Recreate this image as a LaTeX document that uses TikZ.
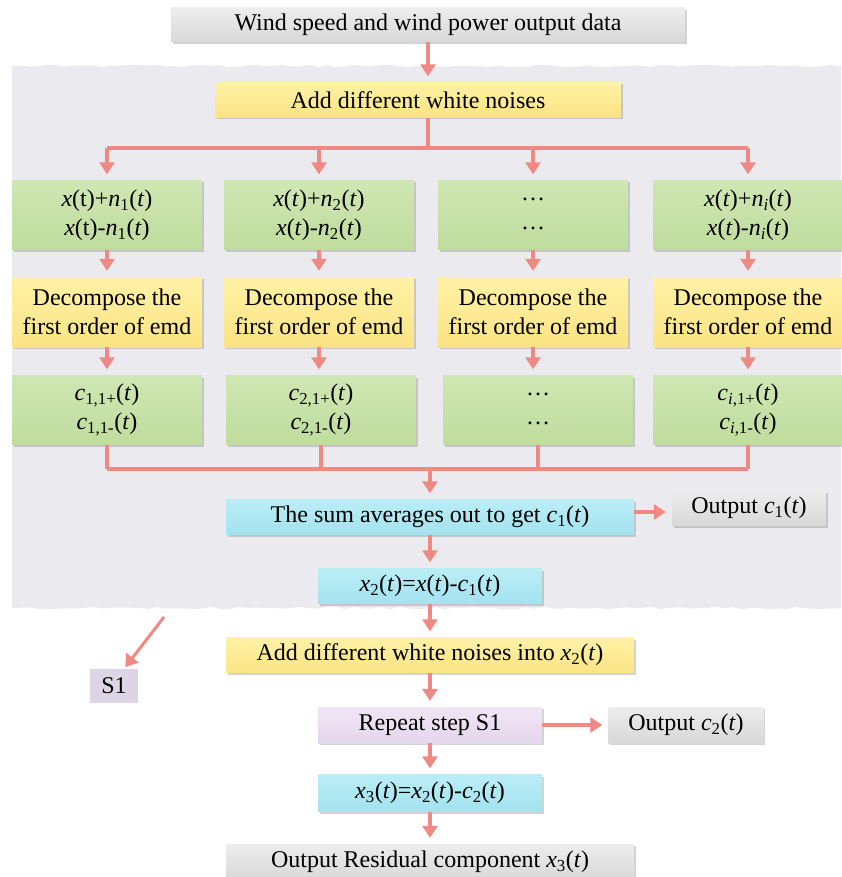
\documentclass[tikz,border=0pt]{standalone}
\usepackage{fontspec}
\setmainfont{Liberation Serif}
\usetikzlibrary{arrows.meta, positioning, shadows, decorations.pathmorphing}
\definecolor{arrowred}{HTML}{EE8A83}
\definecolor{regiongray}{HTML}{EBEBEF}
\definecolor{grayhi}{HTML}{EDEDED}
\definecolor{graylo}{HTML}{D8D8D8}
\definecolor{yellowhi}{HTML}{FFF2A6}
\definecolor{yellowlo}{HTML}{FBE383}
\definecolor{greenhi}{HTML}{CFE7B3}
\definecolor{greenlo}{HTML}{BFDC9D}
\definecolor{bluehi}{HTML}{BAEEF7}
\definecolor{bluelo}{HTML}{A3E2EE}
\definecolor{lilachi}{HTML}{F1E6F5}
\definecolor{lilaclo}{HTML}{E4D6EC}
\definecolor{sonebox}{HTML}{DDD5E5}
\newcommand{\vi}[1]{\textit{#1}}
\newcommand{\middots}{\raisebox{0.3ex}{…}}

\begin{document}
\begin{tikzpicture}[x=1pt, y=-1pt,
    box/.style={rectangle, inner sep=0pt, align=center, minimum height=35pt,
      font=\fontsize{24}{29}\selectfont,
      drop shadow={shadow xshift=1.5pt, shadow yshift=-2pt, opacity=0.35}},
    graybox/.style={box, top color=grayhi, bottom color=graylo},
    yellowbox/.style={box, top color=yellowhi, bottom color=yellowlo},
    greenbox/.style={box, top color=greenhi, bottom color=greenlo, minimum width=190pt, minimum height=69pt},
    bluebox/.style={box, top color=bluehi, bottom color=bluelo},
    lilacbox/.style={box, top color=lilachi, bottom color=lilaclo},
    ln/.style={draw=arrowred, line width=3.5pt},
    arr/.style={ln, -{Triangle[width=15pt,length=12pt]}, shorten >=6pt}]
    \useasboundingbox (0,0) rectangle (841,877);
    \pgfmathsetseed{7}

    % Grey panel with torn top and bottom edges
    \fill[regiongray] (12,66)
      decorate[decoration={random steps, segment length=9pt, amplitude=1.2pt}] {-- (841,66)}
      -- (841,608)
      decorate[decoration={random steps, segment length=9pt, amplitude=1.2pt}] {-- (12,608)}
      -- cycle;

    % Input and noise
    \node[graybox, minimum width=514pt, minimum height=34pt] (data) at (428,25) {Wind speed and wind power output data};
    \node[yellowbox, minimum width=406pt] (noise) at (418,100) {Add different white noises};

    % Noisy signals
    \node[greenbox] (add1) at (107,215) {\vi{x}(t)+\vi{n}\textsubscript{1}(\vi{t})\\\vi{x}(t)-\vi{n}\textsubscript{1}(\vi{t})};
    \node[greenbox] (add2) at (319,215) {\vi{x}(\vi{t})+\vi{n}\textsubscript{2}(\vi{t})\\\vi{x}(\vi{t})-\vi{n}\textsubscript{2}(\vi{t})};
    \node[greenbox] (add3) at (533,215) {\middots\\\middots};
    \node[greenbox] (add4) at (748,215) {\vi{x}(\vi{t})+\vi{n}\textsubscript{\vi{i}}(\vi{t})\\\vi{x}(\vi{t})-\vi{n}\textsubscript{\vi{i}}(\vi{t})};

    % First order EMD
    \foreach \i/\x in {1/107, 2/319, 3/533, 4/748} {
      \node[yellowbox, minimum width=190pt, minimum height=70pt] (dec\i) at (\x,312) {Decompose the\\first order of emd};
    }

    % First IMFs
    \node[greenbox] (imf1) at (107,410) {\vi{c}\textsubscript{1,1+}(\vi{t})\\\vi{c}\textsubscript{1,1-}(\vi{t})};
    \node[greenbox] (imf2) at (321,410) {\vi{c}\textsubscript{2,1+}(\vi{t})\\\vi{c}\textsubscript{2,1-}(\vi{t})};
    \node[greenbox] (imf3) at (538,410) {\middots\\\middots};
    \node[greenbox] (imf4) at (748,410) {\vi{c}\textsubscript{\vi{i},1+}(\vi{t})\\\vi{c}\textsubscript{\vi{i},1-}(\vi{t})};

    % Averaging and residue
    \node[bluebox, minimum width=408pt] (sum) at (430,517) {The sum averages out to get \vi{c}\textsubscript{1}(\vi{t})};
    \node[graybox, minimum width=154pt] (out1) at (749,508) {Output \vi{c}\textsubscript{1}(\vi{t})};
    \node[bluebox, minimum width=224pt] (xtwo) at (430,586) {\vi{x}\textsubscript{2}(\vi{t})=\vi{x}(\vi{t})-\vi{c}\textsubscript{1}(\vi{t})};
    \node[yellowbox, minimum width=408pt] (noise2) at (430,655) {Add different white noises into \vi{x}\textsubscript{2}(\vi{t})};
    \node[fill=sonebox, minimum width=48pt, minimum height=34pt, inner sep=0pt, font=\fontsize{24}{29}\selectfont] (sone) at (114,686) {S1};
    \node[lilacbox, minimum width=224pt, minimum height=36pt] (repeat) at (430,725) {Repeat step S1};
    \node[graybox, minimum width=155pt, minimum height=36pt] (out2) at (686,725) {Output \vi{c}\textsubscript{2}(\vi{t})};
    \node[bluebox, minimum width=224pt, minimum height=37pt] (xthree) at (430,793) {\vi{x}\textsubscript{3}(\vi{t})=\vi{x}\textsubscript{2}(\vi{t})-\vi{c}\textsubscript{2}(\vi{t})};
    \node[graybox, minimum width=408pt, minimum height=36pt] (resid) at (430,862) {Output Residual component \vi{x}\textsubscript{3}(\vi{t})};

    % Connectors
    \coordinate (split) at (428,148);
    \coordinate (merge) at (430,469);
    \coordinate (sonefrom) at (164,617);
    \draw[arr] (data.south) -- (data.south |- noise.north);
    \draw[ln] (noise.south -| split) -- (split);
    \draw[ln] (split -| add1) -- (split -| add4);
    \foreach \i in {1,...,4} {
      \draw[arr] (split -| add\i) -- (add\i.north);
      \draw[arr] (add\i.south) -- (dec\i.north);
      \draw[arr] (dec\i.south) -- (dec\i.south |- imf\i.north);
      \draw[ln] (imf\i.south) -- (merge -| imf\i);
    }
    \draw[ln] (merge -| imf1) -- (merge -| imf4);
    \draw[arr] (merge) -- (sum.north);
    \draw[arr] (sum.east |- 0,512) -- (out1.west |- 0,512);
    \draw[arr] (sum.south) -- (xtwo.north);
    \draw[arr] (xtwo.south) -- (noise2.north);
    \draw[arr] (noise2.south) -- (repeat.north);
    \draw[arr] (repeat.east) -- (out2.west);
    \draw[arr] (repeat.south) -- (xthree.north);
    \draw[arr] (xthree.south) -- (resid.north);
    \draw[arr, line width=3pt, shorten >=2pt] (sonefrom) -- ([xshift=10pt]sone.north);
  \end{tikzpicture}
\end{document}
